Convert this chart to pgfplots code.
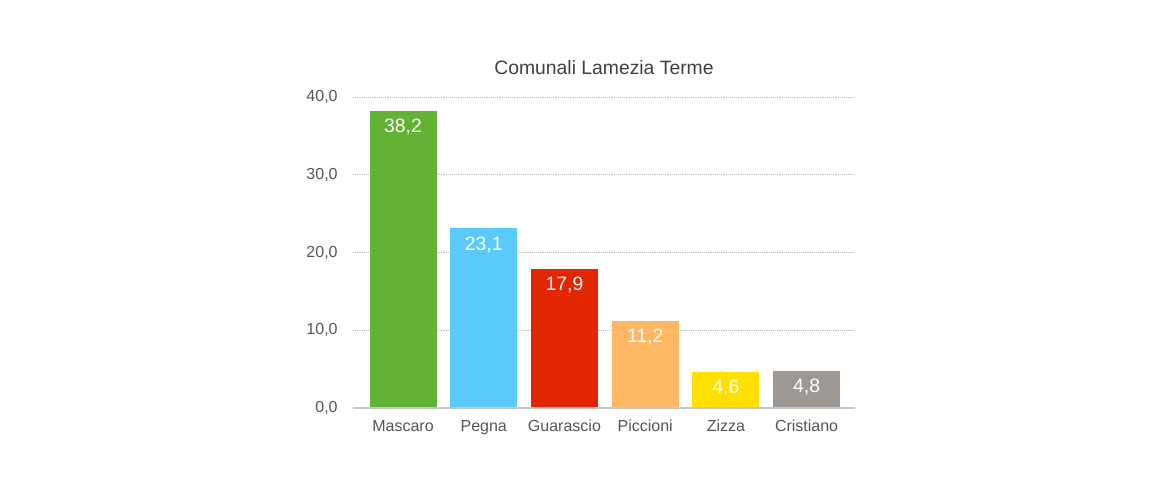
\documentclass[border=0pt]{standalone}
\usepackage{fontspec}
\setmainfont{Liberation Sans}
\usepackage{pgfplots}
\pgfplotsset{compat=1.18}

\definecolor{cgreen}{RGB}{98,178,54}
\definecolor{cblue}{RGB}{90,202,250}
\definecolor{cred}{RGB}{226,38,2}
\definecolor{corange}{RGB}{255,183,100}
\definecolor{cyellow}{RGB}{255,224,0}
\definecolor{cgray}{RGB}{157,152,147}
\definecolor{txt}{RGB}{85,85,85}

\begin{document}
\begin{tikzpicture}
% page = 1170 x 495 px at 0.75pt per px
\path[use as bounding box] (-264.75pt,-65.25pt) rectangle ++(877.5pt,371.25pt);
\begin{axis}[
  scale only axis,
  clip=false,
  width=376.5pt, height=233.25pt,
  ybar, bar width=0.83, bar shift=0pt,
  xmin=-0.62, xmax=5.6,
  ymin=0, ymax=40,
  xtick={0,...,5},
  xticklabels={Mascaro,Pegna,Guarascio,Piccioni,Zizza,Cristiano},
  ytick={0,10,20,30,40},
  axis line style={draw=none},
  major tick length=0pt,
  ymajorgrids,
  grid style={gray!55, densely dotted},
  tick label style={font=\fontsize{12}{14}\selectfont, text=txt},
  xticklabel style={yshift=-5.5pt},
  yticklabel style={xshift=-8pt},
  /pgf/number format/.cd, fixed, fixed zerofill, precision=1, use comma, assume math mode=true,
  /pgfplots/.cd,
  nodes near coords,
  every node near coord/.append style={anchor=north, yshift=-6pt, inner sep=0pt,
    text=white, font=\fontsize{14.5}{16}\selectfont},
]
\addplot[fill=cgreen, draw=none] coordinates {(0,38.2)};
\addplot[fill=cblue, draw=none] coordinates {(1,23.1)};
\addplot[fill=cred, draw=none] coordinates {(2,17.9)};
\addplot[fill=corange, draw=none] coordinates {(3,11.2)};
\addplot[fill=cyellow, draw=none] coordinates {(4,4.6)};
\addplot[fill=cgray, draw=none] coordinates {(5,4.8)};
\draw[gray!45, line width=0.8pt] (rel axis cs:0,0) -- (rel axis cs:1,0);
\node[text=black!75, font=\fontsize{14.5}{17}\selectfont] at (rel axis cs:0.5,1) [yshift=21.75pt] {Comunali Lamezia Terme};
\end{axis}
\end{tikzpicture}
\end{document}
